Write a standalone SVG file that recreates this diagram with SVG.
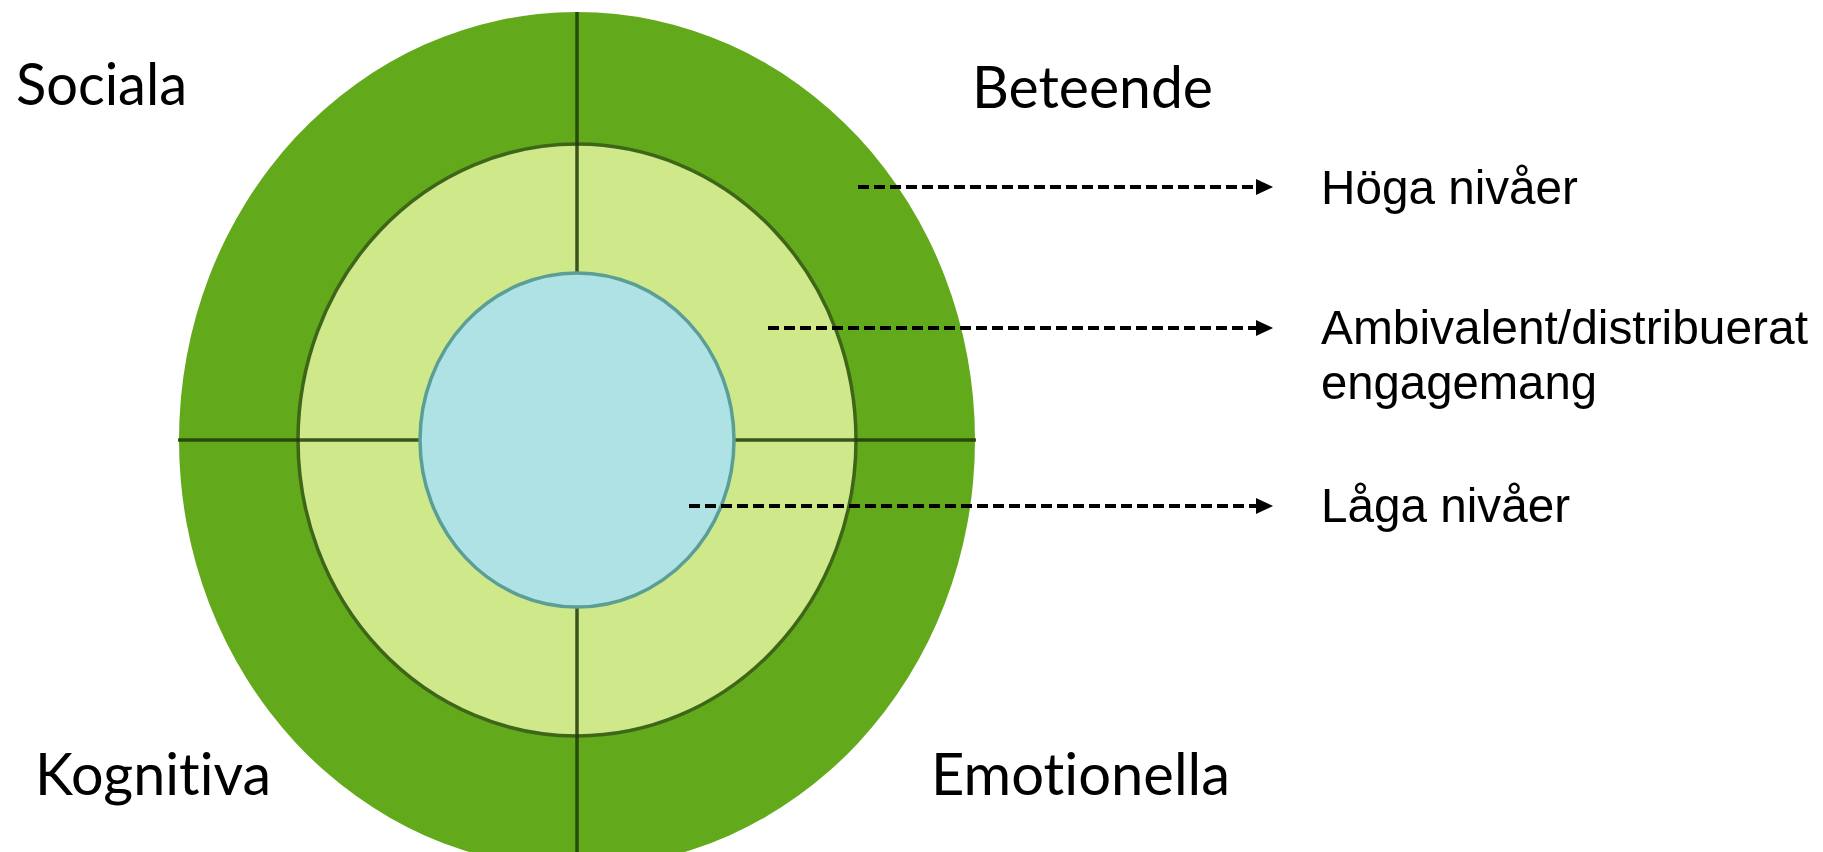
<svg xmlns="http://www.w3.org/2000/svg" width="1823" height="852" viewBox="0 0 1823 852">
  <style>
    .cat { font-family: Lato, "Open Sans", "Liberation Sans", sans-serif; font-size: 58px; fill: #000; font-variant-ligatures: none; }
    .lvl { font-family: "Liberation Sans", Arial, sans-serif; font-size: 49px; fill: #000; }
    .dash { stroke: #000; stroke-width: 3.8; stroke-dasharray: 11 5; fill: none; }
    .cross { stroke: #1f3a09; stroke-width: 3.5; stroke-opacity: 0.85; }
  </style>
  <defs>
    <marker id="arrow" markerWidth="17" markerHeight="17" viewBox="0 0 17 17" refX="0" refY="8.5" orient="auto" markerUnits="userSpaceOnUse">
      <path d="M0,0.5 L17,8.5 L0,16.5 Z" fill="#000"/>
    </marker>
  </defs>
  <rect width="1823" height="852" fill="#fff"/>
  <g id="rings">
    <ellipse id="outer" cx="577" cy="440" rx="398" ry="428" fill="#62a91b"/>
    <ellipse id="middle" cx="577" cy="440" rx="279" ry="296" fill="#cfe88a" stroke="#3d6619" stroke-width="3.5"/>
    <g id="cross">
      <line class="cross" x1="577" y1="12" x2="577" y2="852"/>
      <line class="cross" x1="178" y1="440" x2="976" y2="440"/>
    </g>
    <ellipse id="inner" cx="577" cy="440" rx="157" ry="167" fill="#aee2e5" stroke="#5a9e96" stroke-width="3.5"/>
  </g>
  <g id="categories">
    <text id="sociala" class="cat" x="16" y="105" textLength="171" lengthAdjust="spacingAndGlyphs">Sociala</text>
    <text id="beteende" class="cat" x="972" y="108" textLength="241" lengthAdjust="spacingAndGlyphs">Beteende</text>
    <text id="kognitiva" class="cat" x="35" y="795" textLength="236" lengthAdjust="spacingAndGlyphs">Kognitiva</text>
    <text id="emotionella" class="cat" x="931" y="795" textLength="299" lengthAdjust="spacingAndGlyphs">Emotionella</text>
  </g>
  <g id="connectors">
    <line class="dash" x1="858" y1="187" x2="1256" y2="187" marker-end="url(#arrow)"/>
    <line class="dash" x1="768" y1="328" x2="1256" y2="328" marker-end="url(#arrow)"/>
    <line class="dash" x1="689" y1="506" x2="1256" y2="506" marker-end="url(#arrow)"/>
  </g>
  <g id="levels">
    <text id="hoga" class="lvl" x="1321" y="204" textLength="257" lengthAdjust="spacingAndGlyphs">Höga nivåer</text>
    <text id="ambivalent" class="lvl" x="1321" y="344" textLength="487" lengthAdjust="spacingAndGlyphs">Ambivalent/distribuerat</text>
    <text id="engagemang" class="lvl" x="1321" y="399" textLength="276" lengthAdjust="spacingAndGlyphs">engagemang</text>
    <text id="laga" class="lvl" x="1321" y="522" textLength="249" lengthAdjust="spacingAndGlyphs">Låga nivåer</text>
  </g>
</svg>
